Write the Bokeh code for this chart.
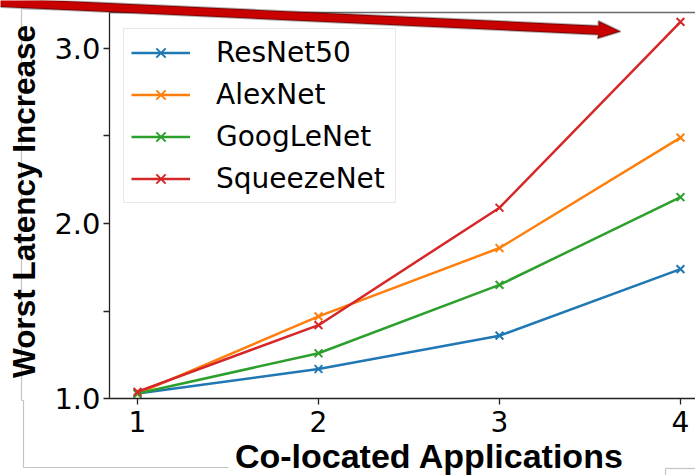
import math
from bokeh.plotting import figure
from bokeh.models import (Range1d, FixedTicker, NumeralTickFormatter, Label, Arrow,
                          PolyAnnotation, Legend, LegendItem)
from bokeh.embed import file_html
from bokeh.resources import INLINE

# ---------------- data ----------------
apps = [1, 2, 3, 4]
resnet50 = [1.03, 1.17, 1.36, 1.74]
alexnet = [1.03, 1.47, 1.86, 2.49]
googlenet = [1.03, 1.26, 1.65, 2.15]
squeezenet = [1.04, 1.42, 2.09, 3.15]
series_names = ["ResNet50", "AlexNet", "GoogLeNet", "SqueezeNet"]
series_values = [resnet50, alexnet, googlenet, squeezenet]
series_colors = ["#1f77b4", "#ff7f0e", "#2ca02c", "#d62728"]
x_ticks = [1, 2, 3, 4]
y_major_ticks = [1.0, 2.0, 3.0]
y_minor_ticks = [1.5, 2.5]
x_title = "Co-located Applications"
y_title = "Worst Latency Increase"

# ---------------- layout ----------------
W, H = 695, 475
X_PX_PER_UNIT, X1_PX = 181.0, 137.0       # x=1 sits at pixel 137
Y_PX_PER_UNIT, Y1_PX = 175.3, 398.3       # y=1.0 sits at pixel 398.3
SPINE_L_PX, SPINE_T_PX = 109.0, 12.0


def xval(px):
    return 1 + (px - X1_PX) / X_PX_PER_UNIT


def yval(py):
    return 1 + (Y1_PX - py) / Y_PX_PER_UNIT


def sy(py):  # screen units inside frame (frame == whole canvas), y up
    return H - py


p = figure(width=W, height=H, output_backend="svg", toolbar_location=None,
           x_range=Range1d(xval(0), xval(W)),
           y_range=Range1d(yval(H), yval(0)),
           min_border=0, min_border_left=0, min_border_right=0,
           min_border_top=0, min_border_bottom=0)
p.background_fill_color = "white"
p.border_fill_color = "white"
p.outline_line_color = None
p.xgrid.visible = False
p.ygrid.visible = False

for ax in (p.xaxis[0], p.yaxis[0]):
    ax.axis_line_color = "#222222"
    ax.axis_line_width = 1.3
    ax.major_tick_line_color = "#222222"
    ax.major_tick_line_width = 1.3
    ax.minor_tick_line_color = "#222222"
    ax.minor_tick_line_width = 1.3
    ax.major_tick_in = 0
    ax.major_tick_out = 6
    ax.minor_tick_in = 0
    ax.minor_tick_out = 6
    ax.major_label_text_font = "DejaVu Sans"
    ax.major_label_text_color = "black"

p.xaxis.fixed_location = 1.0
p.xaxis.bounds = (xval(SPINE_L_PX), xval(W))
p.xaxis.ticker = FixedTicker(ticks=x_ticks, minor_ticks=[])
p.xaxis.major_label_text_font_size = "28px"
p.xaxis.major_label_standoff = 6

p.yaxis.fixed_location = xval(SPINE_L_PX)
p.yaxis.bounds = (1.0, yval(SPINE_T_PX))
p.yaxis.ticker = FixedTicker(ticks=y_major_ticks, minor_ticks=y_minor_ticks)
p.yaxis.formatter = NumeralTickFormatter(format="0.0")
p.yaxis.major_label_text_font_size = "29px"
p.yaxis.major_label_standoff = 3

items = []
for name, ys, color in zip(series_names, series_values, series_colors):
    rl = p.line(apps, ys, line_color=color, line_width=2.5)
    rm = p.scatter(apps, ys, marker="x", size=11, line_color=color, line_width=2)
    items.append(LegendItem(label=name, renderers=[rl, rm]))

legend = Legend(items=items, location=(123, 272), orientation="vertical",
                label_text_font="DejaVu Sans", label_text_font_size="28px",
                label_text_color="black",
                glyph_width=59, glyph_height=33, label_height=33,
                label_width=172, label_standoff=26, padding=7, spacing=9,
                margin=0, background_fill_color="white",
                background_fill_alpha=0.85, border_line_color="#d0d0d0",
                border_line_width=1.2)
p.add_layout(legend)

# top spine
p.add_layout(Arrow(end=None, x_start=SPINE_L_PX, y_start=sy(SPINE_T_PX),
                   x_end=W, y_end=sy(SPINE_T_PX),
                   start_units="screen", end_units="screen",
                   line_color="#6a6a6a", line_width=1.5))

# light gray text-box frames (slide artefacts)
gray_segments = [
    ((21, 8.5), (21, 400)),
    ((21, 400), (23, 400)),
    ((23, 400), (23, 467)),
    ((23, 467), (228, 467)),
    ((21, 8.5), (109, 8.5)),
    ((665, 468), (695, 468)),
    ((665, 468), (665, 476)),
]
for (a, b) in gray_segments:
    p.add_layout(Arrow(end=None, x_start=a[0], y_start=sy(a[1]),
                       x_end=b[0], y_end=sy(b[1]),
                       start_units="screen", end_units="screen",
                       line_color="#c4c4c4", line_width=1.2))

# axis titles
p.add_layout(Label(x=23, y=sy(201), x_units="screen", y_units="screen",
                   text=y_title, angle=math.pi / 2, text_align="center",
                   text_baseline="alphabetic", text_font="Liberation Sans",
                   text_font_style="bold", text_font_size="31.5px",
                   text_color="black"))
p.add_layout(Label(x=429, y=sy(455), x_units="screen", y_units="screen",
                   text=x_title, text_align="center",
                   text_baseline="alphabetic", text_font="Liberation Sans",
                   text_font_style="bold", text_font_size="34px",
                   text_color="black"))

# red block arrow overlay
arrow_px = [-3, 598, 598, 620, 597, 598, -3]
arrow_py = [-2.6, 25.2, 20.5, 31, 38, 34.2, 6.4]
p.add_layout(PolyAnnotation(xs=arrow_px, ys=[sy(v) for v in arrow_py],
                            xs_units="screen", ys_units="screen",
                            fill_color="#c80000", fill_alpha=1.0,
                            line_color="black", line_width=2))

open("out.html", "w").write(file_html(p, INLINE))
